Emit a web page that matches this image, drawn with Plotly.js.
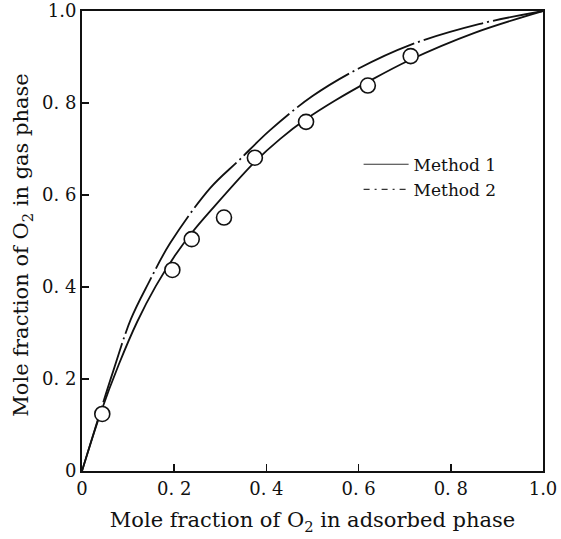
<!DOCTYPE html>
<html>
<head>
<meta charset="utf-8">
<script src="https://cdn.plot.ly/plotly-3.0.1.min.js"></script>
<style>html,body{margin:0;padding:0;background:#fff;}#chart{width:561px;height:539px;}</style>
</head>
<body>
<div id="chart"></div>
<script>
// Measured data points (open circles)
const expX = [0.044, 0.196, 0.238, 0.308, 0.375, 0.486, 0.620, 0.713];
const expY = [0.124, 0.437, 0.504, 0.551, 0.681, 0.759, 0.838, 0.902];

// Method 1 (solid curve)
const m1X = [0, 0.04, 0.08, 0.12, 0.16, 0.20, 0.24, 0.28, 0.375, 0.43, 0.486, 0.55, 0.62, 0.71, 0.85, 1.0];
const m1Y = [0, 0.125, 0.232, 0.325, 0.402, 0.466, 0.52, 0.567, 0.672, 0.722, 0.765, 0.806, 0.846, 0.893, 0.952, 1.0];

// Method 2 (dash-dot curve)
const m2X = [0, 0.04, 0.067, 0.106, 0.145, 0.191, 0.278, 0.34, 0.408, 0.50, 0.60, 0.711, 0.863, 1.0];
const m2Y = [0, 0.13, 0.215, 0.33, 0.41, 0.495, 0.615, 0.675, 0.741, 0.815, 0.875, 0.926, 0.972, 1.0];

const tickVals = [0, 0.2, 0.4, 0.6, 0.8, 1.0];
const tickText = ["0", "0. 2", "0. 4", "0. 6", "0. 8", "1.0"];

const serif = "DejaVu Serif, serif";

const traces = [
  {x: m1X, y: m1Y, mode: "lines", name: "Method 1", showlegend: false,
   line: {color: "#111", width: 1.8, shape: "spline", smoothing: 1}},
  {x: m2X, y: m2Y, mode: "lines", name: "Method 2", showlegend: false,
   line: {color: "#111", width: 1.8, shape: "spline", smoothing: 1, dash: "62px,4px,2px,4px"}},
  {x: expX, y: expY, mode: "markers", name: "Experimental", showlegend: false,
   marker: {symbol: "circle", size: 15, color: "#fff", line: {color: "#111", width: 1.6}}},
  // legend entries
  {x: [null], y: [null], mode: "lines", name: "Method 1", line: {color: "#333", width: 1.2}},
  {x: [null], y: [null], mode: "lines", name: "Method 2", line: {color: "#333", width: 1.2, dash: "6px,5px,2px,5px"}}
];

const axisCommon = {
  range: [0, 1], showgrid: false, zeroline: false,
  showline: true, linecolor: "#111", linewidth: 2, mirror: true,
  ticks: "inside", ticklen: 7, tickwidth: 1.5, tickcolor: "#111",
  tickvals: tickVals, ticktext: tickText, ticklabeloverflow: "allow",
  tickfont: {family: serif, size: 18, color: "#111"}
};

const layout = {
  width: 561, height: 539,
  margin: {l: 82, r: 18, t: 11, b: 68},
  paper_bgcolor: "#fff", plot_bgcolor: "#fff",
  showlegend: true,
  legend: {x: 0.6, xanchor: "left", y: 0.705, yanchor: "top", bgcolor: "rgba(0,0,0,0)",
           itemwidth: 45, font: {family: serif, size: 17, color: "#111"}, tracegroupgap: 0},
  xaxis: Object.assign({}, axisCommon, {
    title: {text: 'Mole fraction of O<sub>2</sub> in adsorbed phase',
            font: {family: serif, size: 21, color: "#111"}, standoff: 15}
  }),
  yaxis: Object.assign({}, axisCommon),
  annotations: [{
    text: 'Mole fraction of O<sub>2</sub> in gas phase',
    xref: "paper", yref: "paper", x: -0.13, y: 0.49, textangle: -90,
    showarrow: false, xanchor: "center", yanchor: "middle",
    font: {family: serif, size: 21, color: "#111"}
  }]
};

Plotly.newPlot("chart", traces, layout, {displayModeBar: false, staticPlot: true});
</script>
</body>
</html>
